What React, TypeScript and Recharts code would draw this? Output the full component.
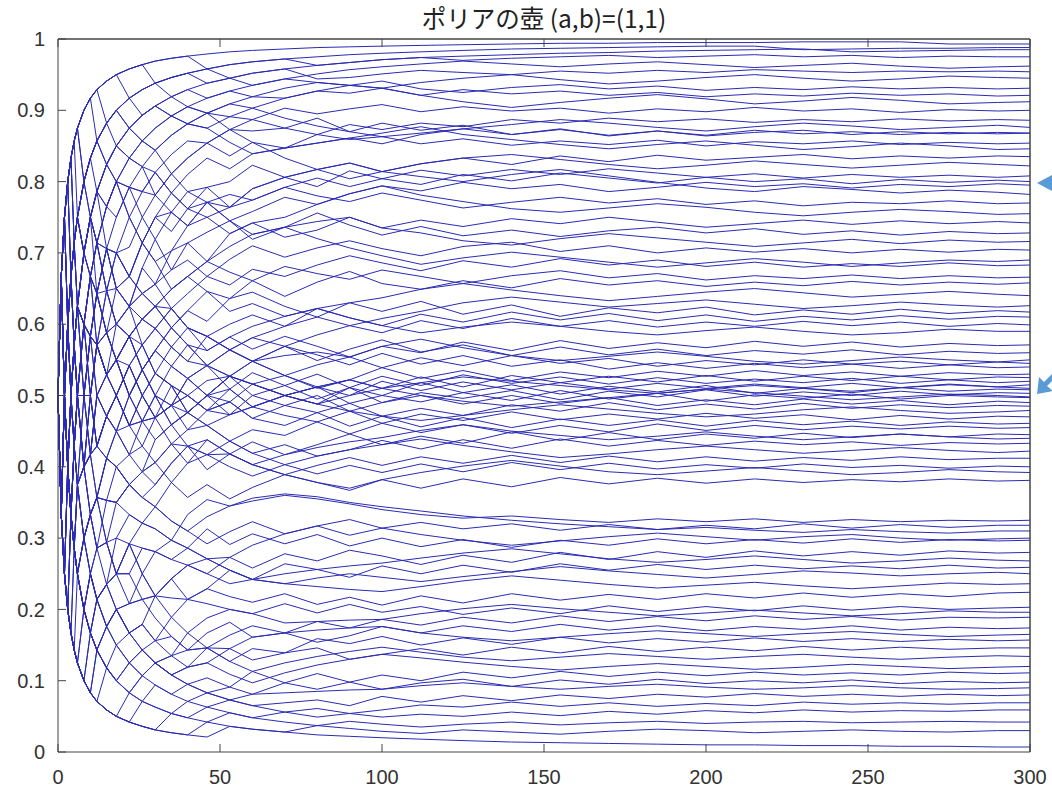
import { LineChart, Line, XAxis, YAxis, ReferenceLine } from "recharts";

const STEPS = [
  0, 1, 2, 3, 4, 5, 6, 8, 10, 12, 15, 18, 22, 26, 30, 35, 40, 46, 53, 60, 70, 80, 90, 100,
  112, 125, 140, 155, 170, 185, 200, 215, 230, 245, 260, 275, 290, 300,
];

const X_TICKS = [0, 50, 100, 150, 200, 250, 300];
const Y_TICKS = [0, 0.1, 0.2, 0.3, 0.4, 0.5, 0.6, 0.7, 0.8, 0.9, 1];

// red-ball ratio of each urn, in thousandths
const p01 = [500,667,750,800,833,857,875, 900,917,929,941,950,958,964,969,973,976, 979,982,984,986,988,989,990, 991,992,993,994,994,995,995,995,996,996,996,993,993,993];
const p02 = [500,667,750,800,833,857,875, 900,917,929,941,950,958,964,938,946,952, 958,964,968,972,975,978,980, 982,984,986,987,988,989,990,990,985,986,987,987,988,988];
const p03 = [500,667,750,800,833,714,750, 800,833,857,882,900,917,929,938,946,952, 938,945,952,958,944,946,951, 956,953,950,955,952,956,953,957,955,953,955,954,955,954];
const p04 = [500,333,500,600,667,714,750, 800,833,857,882,900,875,893,906,919,929, 917,927,919,931,939,935,941, 930,925,932,936,930,934,928,932,929,933,930,932,930,931];
const p05 = [500,667,750,600,667,714,750, 700,750,786,824,850,833,857,875,892,905, 896,909,919,917,927,924,931, 921,929,923,927,921,925,919,923,920,924,921,923,920,921];
const p06 = [500,667,500,600,667,714,625, 700,750,714,765,800,833,821,844,865,881, 875,891,887,903,895,902,908, 898,905,899,903,896,902,898,904,899,902,897,901,899,900];
const p07 = [500,667,750,800,667,714,750, 800,750,786,765,750,792,821,813,838,857, 854,873,871,875,866,880,873, 882,877,887,882,889,884,888,883,887,884,888,885,887,886];
const p08 = [500,333,500,400,500,571,625, 700,667,714,706,750,792,786,813,784,810, 833,818,839,847,854,861,853, 866,874,866,873,865,871,864,869,872,866,870,867,869,868];
const p09 = [500,667,750,800,833,857,750, 700,750,714,765,800,750,786,781,811,833, 854,836,855,847,866,859,863, 853,860,851,857,852,858,850,856,853,857,852,855,853,854];
const p10 = [500,667,500,400,500,571,500, 600,667,643,706,700,750,714,750,784,762, 792,800,823,806,817,826,814, 825,833,824,836,828,837,830,834,838,832,836,833,836,835];
const p11 = [500,333,250,400,500,429,500, 600,583,643,647,700,667,714,750,730,762, 771,782,774,792,805,793,804, 816,808,817,810,818,812,806,811,805,810,806,809,806,808];
const p12 = [500,667,750,600,667,714,750, 800,833,786,765,800,833,857,844,811,786, 792,764,790,806,793,815,804, 796,810,801,812,805,798,806,800,804,797,803,799,802,800];
const p13 = [500,667,750,800,833,857,875, 800,833,857,824,800,750,714,688,703,714, 729,745,758,778,768,783,794, 787,799,790,796,786,792,799,793,797,791,796,793,797,795];
const p14 = [500,667,500,600,500,571,625, 600,667,714,647,700,708,750,719,757,738, 771,764,774,792,780,772,784, 774,763,771,778,770,776,768,773,766,771,769,773,769,770];
const p15 = [500,333,500,600,667,714,625, 500,583,643,588,650,625,679,719,676,714, 688,727,742,722,732,750,735, 746,737,748,741,750,743,736,741,746,740,745,741,744,742];
const p16 = [500,667,750,800,667,571,625, 700,750,714,647,600,625,679,656,703,738, 771,745,719,736,756,739,725, 737,724,732,723,731,736,728,734,726,731,725,730,727,728];
const p17 = [500,333,500,400,333,429,500, 400,500,571,647,650,625,643,656,676,690, 667,691,710,694,707,717,706, 696,709,715,702,710,700,707,701,706,700,705,701,705,704];
const p18 = [500,667,500,600,667,571,500, 600,667,571,529,550,583,607,594,622,643, 667,655,677,667,683,696,686, 675,689,680,692,683,690,681,687,680,685,681,686,682,683];
const p19 = [500,667,750,600,500,571,625, 700,750,643,706,650,667,714,688,649,667, 688,673,661,681,671,663,676, 667,657,668,675,665,671,662,668,664,669,664,668,665,666];
const p20 = [500,333,250,400,500,429,375, 500,583,571,529,600,625,607,625,595,619, 646,636,661,639,659,674,657, 649,661,651,664,655,661,653,659,654,660,655,659,656,658];
const p21 = [500,667,500,600,500,429,500, 600,500,571,647,600,583,536,563,595,619, 604,636,645,625,610,630,618, 632,614,627,611,623,616,624,613,620,614,621,615,619,617];
const p22 = [500,333,500,600,667,714,750, 700,667,571,588,550,583,607,594,568,595, 583,600,613,597,622,609,598, 614,603,617,606,615,605,613,604,611,606,612,607,611,610];
const p23 = [500,667,750,800,667,571,625, 600,583,643,588,550,500,536,563,541,524, 542,564,581,569,585,598,588, 605,594,608,597,605,596,603,597,604,598,603,597,601,599];
const p24 = [500,333,500,400,500,571,625, 600,667,643,588,600,625,571,594,622,595, 563,582,565,583,569,554,569, 560,575,563,577,566,574,567,576,569,575,568,573,570,571];
const p25 = [500,667,500,400,333,429,500, 600,583,500,471,500,542,571,531,568,548, 583,564,548,569,549,565,578, 561,571,556,568,557,565,556,563,558,564,557,562,559,560];
const p26 = [500,333,250,400,500,571,500, 400,417,500,529,550,583,536,563,541,571, 542,527,548,528,543,554,539, 553,542,556,545,552,541,549,543,550,544,548,543,547,545];
const p27 = [500,667,750,600,500,429,500, 600,667,643,588,550,500,536,563,595,571, 542,564,548,569,557,543,559, 544,556,541,550,537,546,538,545,539,544,538,543,539,540];
const p28 = [500,333,500,400,333,286,375, 400,500,571,529,500,542,500,531,514,476, 500,527,516,528,512,522,539, 524,535,521,533,525,534,527,535,528,533,527,532,529,530];
const p29 = [500,667,500,400,500,429,375, 400,500,429,471,500,458,500,469,486,524, 500,527,548,528,510,522,510, 526,512,528,518,527,519,528,520,527,521,527,522,526,525];
const p30 = [500,333,250,200,333,429,500, 600,500,571,588,550,583,536,500,541,524, 542,509,532,514,530,511,527, 514,529,517,526,516,525,517,523,518,524,517,522,518,520];
const p31 = [500,667,750,800,667,571,500, 500,583,500,471,450,500,464,500,486,476, 500,509,484,500,512,500,520, 507,519,508,518,509,517,510,516,511,517,511,516,512,515];
const p32 = [500,333,500,600,500,571,625, 600,500,429,471,500,458,500,531,514,476, 500,491,516,500,488,511,500, 518,504,515,502,513,505,514,503,510,504,511,506,509,508];
const p33 = [500,667,500,400,500,571,500, 500,417,500,529,550,500,536,500,486,524, 500,527,500,514,495,511,490, 504,496,507,494,506,498,508,499,505,500,506,501,504,503];
const p34 = [500,333,500,600,667,571,500, 400,500,571,529,500,542,500,469,514,500, 479,509,484,500,512,489,500, 491,504,493,507,495,503,492,501,496,502,495,500,498,497];
const p35 = [500,667,500,600,500,429,500, 500,583,571,529,500,458,464,500,459,476, 500,473,500,486,500,478,490, 500,488,500,489,497,486,494,487,495,488,493,487,492,490];
const p36 = [500,333,250,200,333,429,375, 500,500,429,412,450,500,464,469,486,500, 479,491,468,486,476,489,471, 482,472,487,478,490,480,488,481,489,482,487,483,486,485];
const p37 = [500,667,500,400,333,429,500, 400,417,429,471,450,417,464,438,459,476, 458,473,484,472,463,478,461, 474,465,477,466,474,467,475,468,473,466,472,467,471,470];
const p38 = [500,333,500,400,500,429,375, 400,417,500,471,500,458,429,469,486,452, 479,491,468,458,476,457,471, 456,469,455,467,458,466,457,465,459,464,458,463,460,461];
const p39 = [500,667,750,600,500,571,625, 500,500,571,529,550,500,536,500,459,476, 458,436,452,444,463,446,461, 448,459,447,458,449,460,451,458,452,457,453,457,454,455];
const p40 = [500,333,250,400,333,286,375, 400,333,357,412,450,417,429,406,432,405, 438,418,435,417,431,446,431, 443,433,449,437,448,438,446,440,447,441,446,442,446,445];
const p41 = [500,667,500,400,500,571,500, 400,333,357,412,400,375,393,438,459,429, 417,436,419,431,415,424,437, 425,438,426,439,429,437,430,436,431,435,430,434,432,433];
const p42 = [500,333,500,600,500,429,375, 300,333,357,353,400,417,393,375,405,429, 396,418,403,389,402,413,402, 414,405,416,406,415,407,414,408,413,409,414,410,412,412];
const p43 = [500,667,500,400,333,286,250, 300,333,286,353,350,375,393,406,378,405, 417,400,387,403,390,402,392, 404,393,406,396,405,397,403,398,404,399,402,398,401,400];
const p44 = [500,333,250,400,333,429,375, 300,333,357,294,350,375,357,344,378,357, 375,355,371,389,378,367,382, 370,383,372,385,376,384,377,383,378,382,379,383,380,381];
const p45 = [500,333,500,400,333,286,250, 300,250,214,235,300,333,321,313,297,333, 354,345,352,360,355,348,340, 333,328,331,326,322,327,323,327,322,326,323,325,324,325];
const p46 = [500,667,500,400,333,286,375, 300,333,357,294,250,292,321,344,324,310, 292,309,323,306,317,304,314, 322,313,320,311,319,312,318,313,320,314,319,315,318,318];
const p47 = [500,333,250,200,167,286,375, 300,250,286,235,250,292,250,281,270,286, 313,291,306,292,305,289,300, 288,298,287,297,290,299,292,298,293,299,294,298,296,297];
const p48 = [500,667,500,400,333,286,250, 200,250,214,235,250,208,250,219,243,262, 250,273,258,278,268,283,275, 263,276,266,280,270,281,273,282,275,281,276,282,279,280];
const p49 = [500,333,250,200,167,143,250, 300,333,286,294,250,292,250,219,243,214, 229,255,242,264,256,245,261, 250,262,252,264,255,263,256,262,257,261,257,262,258,259];
const p50 = [500,333,500,400,333,286,250, 200,167,214,176,200,167,179,219,189,214, 229,218,210,222,207,217,206, 219,209,222,213,221,214,222,216,223,217,222,218,223,224];
const p51 = [500,333,250,200,333,286,250, 200,250,214,176,150,167,179,156,189,167, 188,200,194,208,195,207,196, 204,193,202,194,205,197,204,198,205,199,204,200,202,203];
const p52 = [500,667,500,400,333,286,250, 200,167,143,176,200,167,143,156,135,167, 146,164,177,167,183,174,186, 178,189,181,191,183,190,184,191,186,190,185,189,188,189];
const p53 = [500,333,250,200,167,143,125, 100,167,214,235,200,167,179,156,162,143, 167,182,161,167,154,163,176, 167,177,169,179,171,177,170,176,172,177,171,175,173,174];
const p54 = [500,333,250,400,333,286,250, 200,167,143,118,100,125,143,125,108,119, 146,127,145,139,159,152,162, 150,160,151,161,153,159,154,160,155,159,155,158,156,157];
const p55 = [500,333,500,400,333,286,250, 200,167,143,118,150,125,107,125,135,119, 125,145,129,139,146,130,137, 145,136,147,139,148,141,147,142,148,143,147,144,146,146];
const p56 = [500,333,250,200,167,143,125, 200,167,143,118,100,83,107,94,81,95, 104,91,113,97,110,98,108, 100,112,104,113,106,112,107,112,108,111,108,112,110,111];
const p57 = [500,333,250,200,167,143,125, 100,83,71,59,50,83,107,125,108,95, 83,91,81,97,88,98,88, 97,102,92,101,95,102,96,100,97,101,96,99,97,98];
const p58 = [500,333,250,200,167,143,125, 100,83,143,118,100,83,71,94,81,71, 83,73,65,69,73,65,78, 70,79,72,80,75,81,77,82,78,81,78,81,79,80];
const p59 = [500,333,250,200,167,143,125, 100,83,71,59,50,42,36,31,54,71, 63,73,65,56,61,54,59, 66,63,70,64,69,64,68,65,70,67,69,67,69,69];
const p60 = [500,333,250,200,167,143,125, 100,167,143,118,100,83,71,63,54,48, 63,55,48,56,49,54,49, 53,50,56,51,57,53,58,55,59,56,58,57,59,59];
const p61 = [500,333,250,200,167,143,125, 100,83,71,59,50,42,36,31,27,24, 42,55,48,42,37,43,39, 35,39,42,38,41,43,40,42,43,41,42,43,42,42];
const p62 = [500,333,250,200,167,143,125, 100,83,71,59,50,42,36,31,27,24, 21,36,32,28,24,22,20, 18,16,14,13,12,11,10,10,9,9,8,8,7,7];
const p63 = [500,667,750,800,833,857,875, 900,917,929,882,900,917,929,938,946,952, 958,945,952,958,963,967,971, 974,970,973,975,977,974,976,978,975,977,974,976,975,975];
const p64 = [500,667,750,800,833,857,875, 800,833,857,882,900,875,857,875,892,881, 896,873,887,875,889,870,882, 872,879,866,874,864,871,865,872,867,870,866,869,867,868];
const p65 = [500,667,750,800,833,857,875, 900,917,929,941,950,958,964,969,973,976, 958,964,968,972,963,967,971, 974,976,978,980,981,983,984,985,986,982,983,984,985,985];
const p66 = [500,667,750,800,833,857,875, 900,917,857,882,900,917,929,938,919,929, 938,945,935,944,951,957,961, 965,969,965,961,965,968,964,960,963,966,962,959,961,962];
const p67 = [500,333,500,600,667,714,750, 800,833,857,882,850,875,893,906,892,905, 917,927,935,944,939,935,931, 939,945,950,943,937,941,946,950,945,941,944,948,946,945];
const p68 = [500,667,750,800,833,857,875, 900,917,929,941,950,917,893,906,919,905, 896,891,903,917,927,935,931, 921,912,904,911,917,922,916,909,913,918,914,909,911,912];
const p69 = [500,667,500,600,667,714,750, 800,833,857,824,850,875,857,844,865,881, 896,909,903,889,878,870,863, 868,874,880,887,882,876,871,877,882,878,873,876,879,876];
const p70 = [500,667,750,800,833,714,750, 800,750,786,824,850,875,893,906,892,881, 875,855,839,847,854,861,868, 877,866,859,852,846,852,857,851,845,849,854,850,845,846];
const p71 = [500,333,500,600,667,714,750, 700,750,786,824,800,792,750,781,811,833, 854,873,855,833,817,804,814, 825,833,838,831,824,818,823,829,824,819,823,827,824,822];
const p72 = [500,667,750,800,833,714,625, 700,750,786,824,850,833,821,781,757,738, 750,764,790,806,817,826,814, 807,800,810,817,808,799,791,786,793,789,784,788,785,782];
const p73 = [500,667,500,600,667,571,625, 700,667,714,765,800,792,786,813,784,762, 750,727,742,750,768,783,794, 781,772,762,757,763,769,764,757,752,757,761,758,754,755];
const p74 = [500,333,500,600,667,714,750, 700,750,786,706,650,667,714,750,757,786, 771,745,726,736,744,750,735, 728,717,711,720,727,721,715,709,714,719,713,718,715,716];
const p75 = [500,667,750,600,667,714,625, 600,583,643,706,700,667,643,625,649,667, 688,709,726,736,720,707,696, 684,693,701,694,687,680,686,692,687,681,686,690,688,690];
const p76 = [500,667,500,400,500,571,625, 700,750,714,647,600,583,607,625,649,667, 646,618,629,611,622,630,637, 649,657,648,640,633,639,645,650,644,638,642,646,642,640];
const p77 = [500,333,500,600,500,571,625, 500,583,643,706,700,667,643,656,622,595, 583,564,581,597,610,598,608, 618,630,638,631,624,629,634,628,622,626,631,627,624,626];
const p78 = [500,667,500,400,500,571,625, 600,667,714,706,650,625,643,625,595,571, 563,582,597,611,622,609,598, 588,596,603,597,590,585,591,596,590,585,588,593,590,590];
const p79 = [500,333,500,600,667,571,500, 500,583,571,529,550,583,607,625,622,595, 583,564,548,556,561,554,569, 579,567,556,549,555,561,555,548,544,549,554,550,547,550];
const p80 = [500,667,500,400,333,429,500, 500,417,429,471,500,542,571,594,568,548, 542,527,516,500,488,500,510, 518,526,520,514,508,503,509,514,510,506,511,515,512,510];
const p81 = [500,333,250,400,500,571,625, 600,583,571,588,600,583,571,531,514,500, 479,473,484,500,512,522,510, 500,492,485,491,497,503,509,504,499,494,498,502,500,498];
const p82 = [500,667,750,600,667,571,500, 400,417,500,529,550,542,500,469,486,500, 521,527,516,500,488,478,471, 465,472,480,487,481,475,470,474,480,484,479,475,477,479];
const p83 = [500,333,500,400,333,429,500, 500,500,429,471,450,458,464,469,432,429, 417,418,403,417,427,435,441, 451,459,450,444,438,443,449,443,438,442,446,442,439,440];
const p84 = [500,667,500,600,500,571,500, 500,417,429,412,400,375,393,406,432,452, 458,436,419,403,415,424,431, 439,430,421,413,418,424,429,424,419,423,427,423,420,422];
const p85 = [500,333,250,200,333,429,500, 400,417,357,353,350,375,357,375,405,429, 438,418,403,389,378,370,382, 392,401,409,401,393,389,394,399,394,389,392,396,393,392];
const p86 = [500,333,500,400,333,286,250, 300,333,357,412,400,375,357,344,324,310, 330,345,356,362,358,350,344, 338,331,325,320,316,312,315,311,308,312,309,307,310,310];
const p87 = [500,667,500,400,333,286,375, 400,417,357,353,350,333,321,313,297,286, 271,273,290,306,317,326,314, 305,297,290,296,302,307,302,297,302,305,300,297,299,300];
const p88 = [500,333,250,200,333,429,375, 400,333,286,294,300,292,286,281,270,262, 250,236,242,250,256,261,265, 272,279,285,278,271,266,270,275,270,265,268,272,269,268];
const p89 = [500,667,500,400,333,286,250, 200,167,214,235,250,250,286,281,297,286, 271,255,242,236,244,250,245, 239,246,253,260,254,249,244,249,254,251,247,250,252,250];
const p90 = [500,333,500,400,333,286,250, 300,250,214,235,200,208,214,219,243,262, 271,255,242,236,232,228,225, 232,240,247,241,235,230,234,238,233,229,233,237,235,236];
const p91 = [500,333,250,200,167,143,125, 200,250,286,294,250,250,214,219,216,214, 208,200,194,181,183,185,186, 194,201,207,201,196,191,195,199,195,191,194,198,196,196];
const p92 = [500,333,500,400,333,286,250, 200,167,143,176,200,208,214,188,162,143, 146,145,161,167,171,174,176, 167,161,156,161,166,170,166,162,166,169,165,162,164,165];
const p93 = [500,333,250,200,167,286,250, 200,250,214,176,150,125,107,125,135,143, 146,127,113,125,134,141,147, 140,133,128,133,138,134,130,134,137,133,130,133,135,134];
const p94 = [500,333,250,200,167,143,125, 100,83,143,176,200,167,143,125,108,119, 125,109,97,111,122,130,137, 132,126,120,115,120,124,120,116,119,123,120,117,119,120];
const p95 = [500,333,250,200,167,143,125, 100,83,71,118,100,125,143,125,108,95, 83,73,81,83,85,87,88, 93,97,92,88,92,95,91,88,90,93,90,88,89,90];
const p96 = [500,333,250,200,167,143,125, 100,83,71,59,50,42,71,63,54,48, 42,36,32,28,37,33,29, 26,31,28,25,29,32,30,27,29,31,29,28,30,30];

const PATHS = [
  p01, p02, p03, p04, p05, p06, p07, p08, p09, p10, p11, p12, p13, p14, p15, p16,
  p17, p18, p19, p20, p21, p22, p23, p24, p25, p26, p27, p28, p29, p30, p31, p32,
  p33, p34, p35, p36, p37, p38, p39, p40, p41, p42, p43, p44, p45, p46, p47, p48,
  p49, p50, p51, p52, p53, p54, p55, p56, p57, p58, p59, p60, p61, p62, p63, p64,
  p65, p66, p67, p68, p69, p70, p71, p72, p73, p74, p75, p76, p77, p78, p79, p80,
  p81, p82, p83, p84, p85, p86, p87, p88, p89, p90, p91, p92, p93, p94, p95, p96,
];

const data = STEPS.map((n, i) => {
  const row: Record<string, number> = { n };
  PATHS.forEach((p, j) => {
    row["s" + j] = p[i] / 1000;
  });
  return row;
});

const LINE = "#2a2ab4";
const AXIS = "#444";
const tickFont = { fontSize: 20, fill: "#333", fontFamily: "'Liberation Sans', Arial, sans-serif" };
const noLabel = () => <g />;

export default function App() {
  return (
    <div style={{ position: "absolute", left: 0, top: 0, width: 1052, height: 792, background: "#fff" }}>
      <div
        style={{
          position: "absolute",
          left: 58,
          width: 972,
          top: 4,
          textAlign: "center",
          fontFamily: "'Noto Sans CJK JP', sans-serif",
          fontSize: 24.5,
          lineHeight: "28px",
          color: "#222",
        }}
      >
        ポリアの壺 (a,b)=(1,1)
      </div>
      <LineChart width={1052} height={792} data={data} margin={{ top: 38, right: 21, bottom: 10, left: 8 }}>
        <XAxis
          dataKey="n"
          type="number"
          domain={[0, 300]}
          ticks={X_TICKS}
          height={30}
          tickSize={-8}
          tickMargin={26}
          stroke={AXIS}
          tick={tickFont}
        />
        <XAxis xAxisId="top" orientation="top" dataKey="n" type="number" domain={[0, 300]} ticks={X_TICKS} height={1} tickSize={-8} tick={noLabel} stroke={AXIS} />
        <YAxis
          type="number"
          domain={[0, 1]}
          ticks={Y_TICKS}
          width={50}
          tickSize={-8}
          tickMargin={21}
          stroke={AXIS}
          tick={tickFont}
        />
        <YAxis yAxisId="right" orientation="right" type="number" domain={[0, 1]} ticks={Y_TICKS} width={1} tickSize={-8} tick={noLabel} stroke={AXIS} />
        {PATHS.map((_, j) => (
          <Line
            key={j}
            dataKey={"s" + j}
            type="linear"
            stroke={LINE}
            strokeWidth={1}
            dot={false}
            activeDot={false}
            isAnimationActive={false}
          />
        ))}
        <ReferenceLine y={1} stroke={AXIS} />
        <ReferenceLine x={300} stroke={AXIS} />
      </LineChart>
      <svg width={1052} height={792} style={{ position: "absolute", left: 0, top: 0, pointerEvents: "none" }}>
        <polygon points="1037,183 1052,175 1052,191" fill="#5b9bd5" />
        <polygon points="1037,394 1039,377 1044,382 1052,374 1052,381 1047,386 1053,391" fill="#5b9bd5" />
      </svg>
    </div>
  );
}
